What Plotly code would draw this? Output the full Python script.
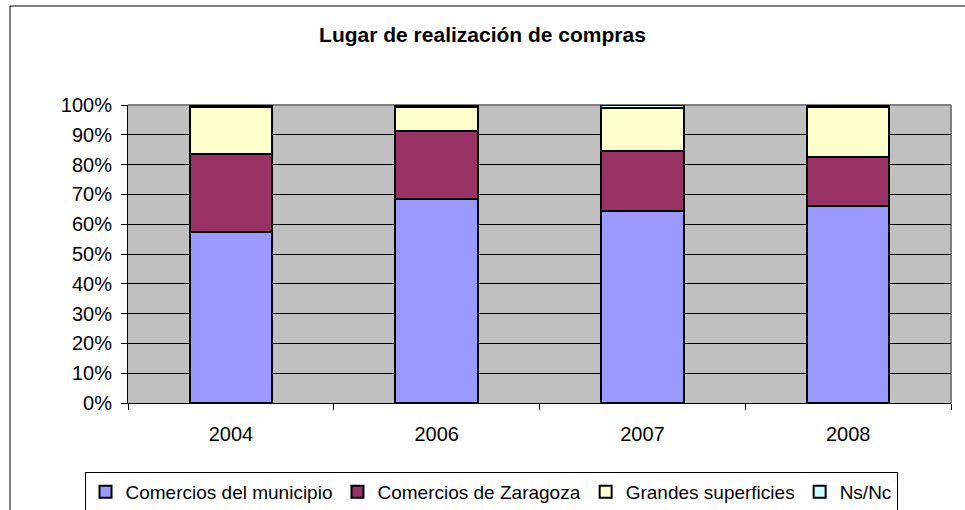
import plotly.graph_objects as go

years = ["2004", "2006", "2007", "2008"]
municipio = [57.5, 68.6, 64.3, 66.2]
zaragoza = [26.2, 22.7, 20.2, 16.2]
grandes = [15.6, 8.0, 14.6, 16.9]
nsnc = [0.7, 0.7, 0.9, 0.7]

series = [
    ("Comercios del municipio", municipio, "#9999FF"),
    ("Comercios de Zaragoza", zaragoza, "#993366"),
    ("Grandes superficies", grandes, "#FFFFCC"),
    ("Ns/Nc", nsnc, "#CCFFFF"),
]

W, H = 965, 510
L, R, T, B = 128, 14, 105, 107
pw, ph = W - L - R, H - T - B

fig = go.Figure()
for name, vals, col in series:
    fig.add_trace(go.Bar(
        x=years, y=vals, name=name,
        marker=dict(color=col, line=dict(color="black", width=2)),
        width=0.4,
    ))

font = "Liberation Sans, Arial, sans-serif"


def px_x(x):
    return (x - L) / pw


def px_y(y):
    return (H - B - y) / ph


fig.update_layout(
    width=W, height=H,
    margin=dict(l=L, r=R, t=T, b=B),
    barmode="stack",
    paper_bgcolor="white",
    plot_bgcolor="#C0C0C0",
    font=dict(family=font, size=20, color="black"),
    title=dict(text="<b>Lugar de realización de compras</b>",
               x=0.5, xanchor="center", xref="container",
               y=1 - 35 / H, yanchor="middle", yref="container",
               font=dict(size=21, family=font)),
    showlegend=True,
    legend=dict(orientation="h", xref="container", yref="container",
                x=491 / W, xanchor="center",
                y=1 - 472 / H, yanchor="top",
                bordercolor="black", borderwidth=1,
                font=dict(size=19, family=font),
                itemwidth=30, tracegroupgap=0,
                traceorder="normal"),
    xaxis=dict(showline=True, linecolor="black", linewidth=1,
               ticks="outside", tickson="boundaries", ticklen=6,
               tickcolor="black", showgrid=False,
               ticklabelstandoff=13,
               tickfont=dict(size=20, family=font)),
    yaxis=dict(range=[0, 100], tickvals=list(range(0, 101, 10)),
               ticktext=[f"{v}%" for v in range(0, 101, 10)],
               showline=True, linecolor="black", linewidth=1,
               ticks="outside", ticklen=6, tickcolor="black",
               showgrid=True, gridcolor="black", gridwidth=1,
               zeroline=False, ticklabelstandoff=5,
               tickfont=dict(size=20, family=font)),
    shapes=[
        dict(type="line", xref="paper", yref="paper", x0=0, x1=1, y0=1, y1=1,
             line=dict(color="#808080", width=2), layer="between"),
        dict(type="line", xref="paper", yref="paper", x0=1, x1=1, y0=0, y1=1,
             line=dict(color="#808080", width=2), layer="between"),
        dict(type="rect", xref="paper", yref="paper",
             x0=px_x(10), x1=px_x(970), y0=px_y(6), y1=px_y(520),
             line=dict(color="black", width=1), fillcolor="rgba(0,0,0,0)"),
    ],
)

fig.write_html("out.html",
               config={"displayModeBar": False},
               post_script="document.body.style.margin='0';document.body.style.overflow='hidden';")
